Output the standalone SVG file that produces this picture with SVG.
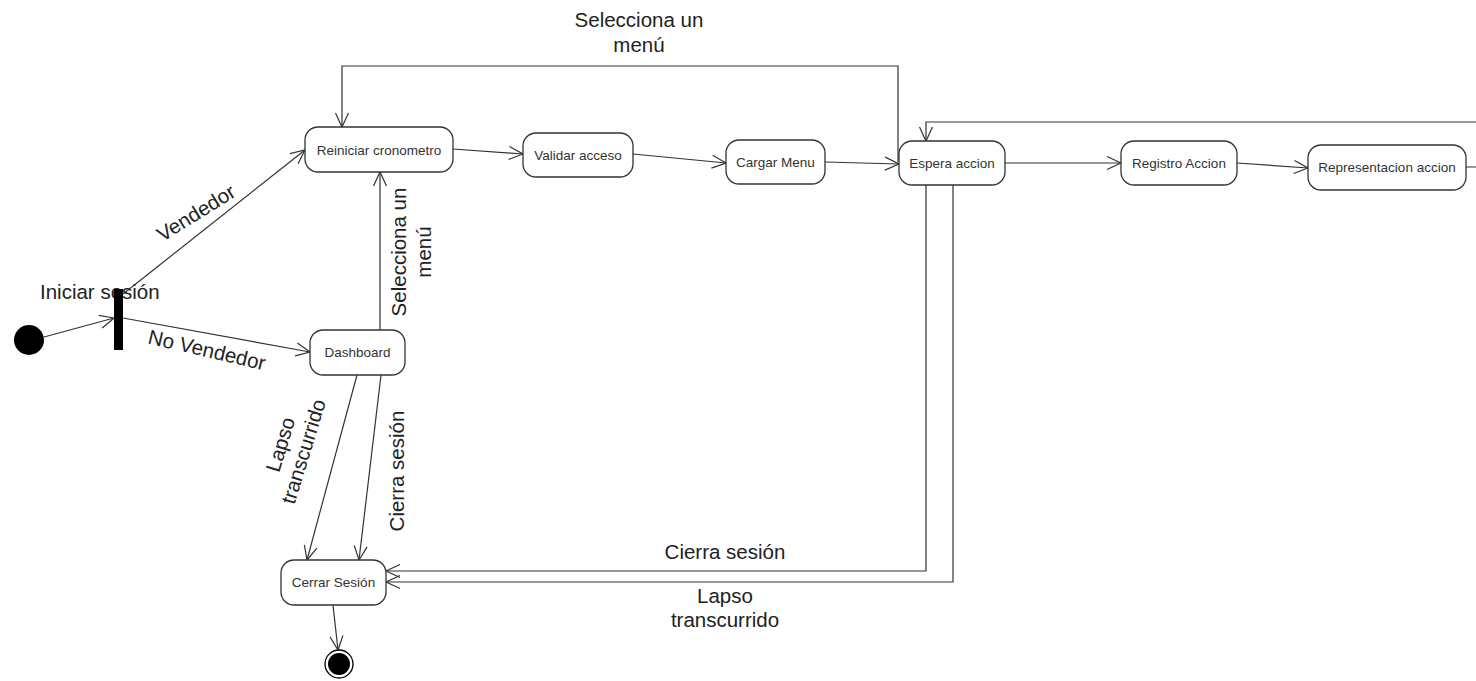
<svg xmlns="http://www.w3.org/2000/svg" width="1476" height="681" viewBox="0 0 1476 681">
<style>
.node rect{fill:#fff;stroke:#333;stroke-width:1.3}
.node text{font-family:"Liberation Sans",Arial,sans-serif;font-size:13.5px;fill:#333;text-anchor:middle}
.edge{fill:none;stroke:#333;stroke-width:1.2;marker-end:url(#arr)}
.lbl{font-family:"Liberation Sans",Arial,sans-serif;font-size:20.5px;fill:#222}
.mid{text-anchor:middle}
</style>
<defs>
<marker id="arr" markerUnits="userSpaceOnUse" markerWidth="20" markerHeight="20" viewBox="-16 -10 20 20" refX="0" refY="0" orient="auto">
<path d="M-14,-6.5 L0,0 L-14,6.5" fill="none" stroke="#333" stroke-width="1.2"/>
</marker>
</defs>
<rect width="1476" height="681" fill="#fff"/>

<g id="connectors">
<path class="edge" d="M44,337 L114,318"/>
<path class="edge" d="M123,294 L305,150"/>
<path class="edge" d="M123,318 L310,352"/>
<path class="edge" d="M453,149 L523,154"/>
<path class="edge" d="M633,154 L726,163"/>
<path class="edge" d="M825,162 L899,164"/>
<path class="edge" d="M1005,163 L1121,163"/>
<path class="edge" d="M1237,163 L1308,168"/>
<path class="edge" d="M1466,167 L1490,167 L1490,122 L926,122 L926,141"/>
<path class="edge" d="M898,162 L898,66 L342,66 L342,127"/>
<path class="edge" d="M380,330 L380,172"/>
<path class="edge" d="M357,375 L307,560"/>
<path class="edge" d="M381,375 L359,560"/>
<path class="edge" d="M926,185 L926,571 L386,571"/>
<path class="edge" d="M953,185 L953,582 L386,582"/>
<path class="edge" d="M333,605 L338,650"/>
</g>

<g id="labels">
<text class="lbl" x="40" y="299">Iniciar sesión</text>
<text class="lbl mid" transform="translate(196,213) rotate(-32)" y="7">Vendedor</text>
<text class="lbl mid" transform="translate(207,350) rotate(13)" y="7">No Vendedor</text>
<text class="lbl mid" x="639" y="27">Selecciona un</text>
<text class="lbl mid" x="639" y="52">menú</text>
<g transform="translate(406,252) rotate(-90)">
<text class="lbl mid" x="0" y="0">Selecciona un</text>
<text class="lbl mid" x="0" y="25">menú</text>
</g>
<g transform="translate(292,448) rotate(-73)">
<text class="lbl mid" x="0" y="-5">Lapso</text>
<text class="lbl mid" x="0" y="19">transcurrido</text>
</g>
<text class="lbl mid" transform="translate(404,471) rotate(-90)">Cierra sesión</text>
<text class="lbl mid" x="725" y="559">Cierra sesión</text>
<text class="lbl mid" x="725" y="603">Lapso</text>
<text class="lbl mid" x="725" y="627">transcurrido</text>
</g>

<g id="start"><circle cx="29" cy="340" r="15" fill="#000"/></g>
<g id="fork"><rect x="114" y="289" width="9" height="61" fill="#000"/></g>

<g id="reiniciar" class="node"><rect x="305" y="127" width="148" height="45" rx="13"/><text x="379" y="155">Reiniciar cronometro</text></g>
<g id="validar" class="node"><rect x="523" y="133" width="110" height="44" rx="13"/><text x="578" y="160">Validar acceso</text></g>
<g id="cargar" class="node"><rect x="726" y="140" width="99" height="44" rx="13"/><text x="775.5" y="167">Cargar Menu</text></g>
<g id="espera" class="node"><rect x="899" y="141" width="106" height="44" rx="13"/><text x="952" y="168">Espera accion</text></g>
<g id="registro" class="node"><rect x="1121" y="141" width="116" height="44" rx="13"/><text x="1179" y="168">Registro Accion</text></g>
<g id="representacion" class="node"><rect x="1308" y="145" width="158" height="45" rx="13"/><text x="1387" y="172">Representacion accion</text></g>
<g id="dashboard" class="node"><rect x="310" y="330" width="95" height="45" rx="13"/><text x="357.5" y="357">Dashboard</text></g>
<g id="cerrar" class="node"><rect x="281" y="560" width="105" height="45" rx="13"/><text x="333.5" y="587">Cerrar Sesión</text></g>

<g id="end"><circle cx="339" cy="664" r="14" fill="#fff" stroke="#000" stroke-width="1.3"/><circle cx="339" cy="664" r="11" fill="#000"/></g>
</svg>
